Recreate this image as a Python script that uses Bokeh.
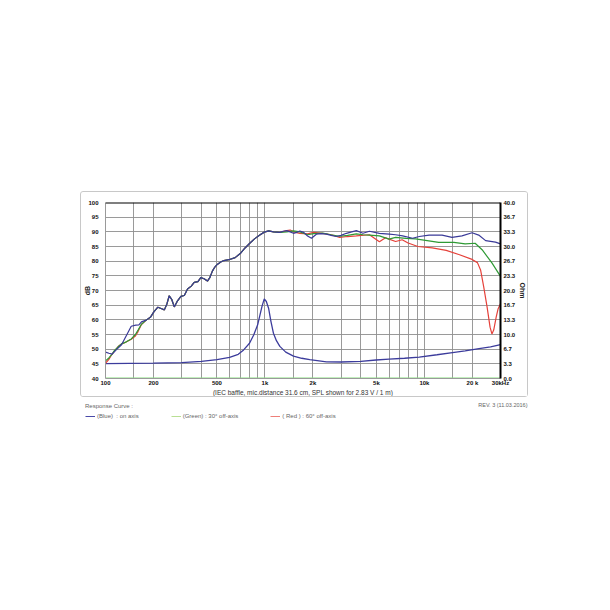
from bokeh.plotting import figure
from bokeh.layouts import column
from bokeh.models import Range1d, LinearAxis, FixedTicker, Span, Label, Legend, LegendItem
from bokeh.embed import file_html
from bokeh.resources import INLINE

# ---------------- data ----------------
blue_freq = [100, 105, 110, 118, 126, 135, 145, 155, 162, 168, 180, 192, 201, 213, 225, 234, 243, 251, 260,
             270, 283, 297, 312, 327, 345, 360, 380, 396, 415, 436, 452, 468, 485, 502, 528, 552, 594, 650,
             700, 750, 806, 860, 928, 990, 1055, 1130, 1242, 1300, 1370, 1440, 1510, 1580, 1655, 1750, 1850,
             1958, 2100, 2250, 2430, 2600, 2800, 3000, 3240, 3500, 3740, 4120, 4520, 5220, 6020, 6600, 7300,
             8430, 9280, 10700, 12900, 14900, 17200, 19900, 21900, 24200, 27900, 30000]
blue_db = [49.0, 48.6, 48.3, 50.0, 51.5, 54.6, 57.8, 58.2, 58.3, 59.3, 59.9, 61.0, 62.7, 64.3, 63.8, 63.4, 65.5,
           68.2, 67.0, 64.4, 66.5, 68.0, 68.3, 70.5, 71.5, 72.8, 73.0, 74.4, 74.0, 73.2, 74.5, 76.6, 78.0, 78.9,
           79.7, 80.2, 80.5, 81.2, 82.6, 84.5, 86.2, 87.6, 88.9, 89.9, 90.3, 90.0, 89.8, 90.2, 90.4, 90.0, 89.5,
           89.8, 90.3, 89.8, 88.6, 87.8, 89.2, 89.4, 89.2, 88.8, 88.4, 88.8, 89.5, 90.0, 90.4, 89.5, 90.2, 89.5,
           89.2, 89.0, 88.6, 87.8, 88.4, 88.9, 88.9, 88.1, 88.6, 89.7, 88.9, 87.0, 86.5, 85.9]

green_freq = [100, 105, 110, 114, 120, 126, 135, 145, 154, 160, 168, 180, 192, 201, 213, 225, 234, 243, 251, 260,
              270, 283, 297, 312, 327, 345, 360, 380, 396, 415, 436, 452, 468, 485, 502, 528, 552, 594, 650,
              700, 750, 806, 860, 928, 990, 1055, 1130, 1242, 1370, 1510, 1655, 1850, 2020, 2300, 2600, 2940,
              3300, 3740, 4120, 4520, 5220, 6000, 6600, 7660, 8800, 10400, 12300, 15300, 18000, 20800, 23000,
              26500, 30000]
green_db = [46.0, 47.0, 48.3, 49.6, 50.8, 51.8, 52.5, 53.5, 55.0, 56.5, 58.5, 59.9, 61.0, 62.7, 64.3, 63.8, 63.4,
            65.5, 68.2, 67.0, 64.4, 66.5, 68.0, 68.3, 70.5, 71.5, 72.8, 73.0, 74.4, 74.0, 73.2, 74.5, 76.6, 78.0,
            78.9, 79.7, 80.2, 80.5, 81.2, 82.6, 84.5, 86.2, 87.6, 88.9, 89.9, 90.3, 90.0, 89.8, 90.0, 90.3, 90.0,
            89.0, 89.4, 89.6, 89.0, 88.5, 88.8, 89.3, 89.0, 88.9, 88.6, 87.5, 88.1, 87.8, 87.6, 87.0, 86.4, 86.4,
            85.9, 86.1, 83.9, 79.4, 74.8]

red_freq = [100, 105, 109, 114, 120, 126, 132, 145, 154, 160, 168, 180, 192, 201, 213, 225, 234, 243, 251, 260,
            270, 283, 297, 312, 327, 345, 360, 380, 396, 415, 436, 452, 468, 485, 502, 528, 552, 594, 650,
            700, 750, 806, 860, 928, 990, 1055, 1130, 1242, 1370, 1440, 1510, 1655, 1850, 2020, 2300, 2600,
            2940, 3300, 3740, 4520, 5220, 5700, 6000, 6600, 7250, 7900, 9100, 11200, 13700, 16600, 19900,
            21500, 22500, 23500, 24700, 25800, 26500, 27200, 28200, 29000, 30000]
red_db = [45.2, 46.5, 48.0, 49.4, 50.9, 51.8, 52.2, 53.4, 54.5, 56.0, 58.4, 59.9, 61.0, 62.7, 64.3, 63.8, 63.4,
          65.5, 68.2, 67.0, 64.4, 66.5, 68.0, 68.3, 70.5, 71.5, 72.8, 73.0, 74.4, 74.0, 73.2, 74.5, 76.6, 78.0,
          78.9, 79.7, 80.2, 80.5, 81.2, 82.6, 84.5, 86.2, 87.6, 88.9, 89.9, 90.3, 90.0, 89.8, 90.4, 90.6, 90.0,
          89.5, 89.3, 89.8, 89.5, 89.0, 88.1, 88.4, 88.6, 89.0, 86.6, 88.0, 87.5, 86.7, 87.3, 86.2, 85.0, 84.5,
          83.7, 82.2, 80.6, 79.5, 77.0, 71.5, 64.5, 57.5, 55.2, 56.5, 61.0, 63.8, 65.5]

imp_freq = [100, 200, 300, 400, 500, 600, 680, 735, 800, 850, 900, 930, 960, 990, 1020, 1055, 1090, 1130, 1180,
            1240, 1350, 1510, 1700, 1910, 2430, 3000, 4000, 4970, 6000, 7500, 9280, 12000, 15000, 18000, 22000,
            26000, 30000]
imp_ohm = [3.4, 3.5, 3.6, 3.9, 4.3, 4.8, 5.5, 6.5, 8.0, 9.9, 12.2, 14.4, 16.5, 18.1, 17.5, 15.9, 13.0, 10.3, 8.6,
           7.3, 6.0, 5.1, 4.6, 4.3, 3.8, 3.75, 3.9, 4.2, 4.4, 4.6, 4.85, 5.4, 5.9, 6.3, 6.8, 7.2, 7.7]

base_freq = [100, 30000]
base_db = [40, 40]

db_ticks = [40, 45, 50, 55, 60, 65, 70, 75, 80, 85, 90, 95, 100]
ohm_labels = ["0.0", "3.3", "6.7", "10.0", "13.3", "16.7", "20.0", "23.3", "26.7", "30.0", "33.3", "36.7", "40.0"]
x_label_ticks = [100, 200, 500, 1000, 2000, 5000, 10000, 20000, 30000]
x_labels = ["100", "200", "500", "1k", "2k", "5k", "10k", "20 k", "30kHz"]
grid_freqs = [100, 150, 200, 300, 400, 500, 600, 700, 800, 900, 1000, 1500, 2000, 3000, 4000, 5000, 6000,
              7000, 8000, 9000, 10000, 15000, 20000]

legend_names = ["(Blue)  : on axis", "(Green) : 30\u00b0 off-axis", "( Red ) : 60\u00b0 off-axis"]
legend_colors = ["#4a4aa8", "#b9df94", "#ee7f79"]

FONT = "Liberation Sans"

# ---------------- main boxed chart ----------------
p = figure(width=448, height=206, x_axis_type="log", x_range=Range1d(100, 30000), y_range=Range1d(40, 100),
           output_backend="svg", toolbar_location=None,
           min_border_left=23, min_border_right=27, min_border_top=10, min_border_bottom=17,
           margin=(191, 0, 0, 80),
           styles={"border": "1px solid #c8c8c8", "border-radius": "3px"})
p.outline_line_color = None
p.background_fill_color = "white"
p.border_fill_color = "white"
p.extra_y_ranges = {"ohm": Range1d(0, 40)}

p.xgrid.ticker = FixedTicker(ticks=grid_freqs)
p.ygrid.ticker = FixedTicker(ticks=db_ticks)
for g in (p.xgrid, p.ygrid):
    g.grid_line_color = "#8f8f8f"
    g.grid_line_width = 1
    g.grid_line_alpha = 0.9

def style_axis(a, standoff):
    a.major_tick_out = 0
    a.major_tick_in = 0
    a.minor_tick_out = 0
    a.minor_tick_in = 0
    a.major_label_standoff = standoff
    a.major_label_text_font = FONT
    a.major_label_text_font_size = "6px"
    a.major_label_text_font_style = "bold"
    a.major_label_text_color = "#111111"
    a.axis_label_text_font = FONT

ya = p.yaxis[0]
ya.ticker = FixedTicker(ticks=db_ticks)
ya.axis_line_color = "#9a9a9a"
style_axis(ya, 7)
ya.axis_label = "dB"
ya.axis_label_text_font_size = "7px"
ya.axis_label_text_font_style = "bold"
ya.axis_label_text_color = "#222222"
ya.axis_label_standoff = -6

xa = p.xaxis[0]
xa.ticker = FixedTicker(ticks=x_label_ticks)
xa.major_label_overrides = {t: l for t, l in zip(x_label_ticks, x_labels)}
xa.axis_line_color = "#9a9a9a"
style_axis(xa, 1)
xa.axis_label = "(IEC baffle, mic.distance 31.6 cm, SPL shown for 2.83 V / 1 m)"
xa.axis_label_text_font_size = "6.5px"
xa.axis_label_text_font_style = "normal"
xa.axis_label_text_color = "#333333"
xa.axis_label_standoff = 0

ohm_ticks = [i * 40 / 12 for i in range(13)]
ra = LinearAxis(y_range_name="ohm", ticker=FixedTicker(ticks=ohm_ticks),
                major_label_overrides={t: l for t, l in zip(ohm_ticks, ohm_labels)})
ra.axis_line_color = "black"
ra.axis_line_width = 2
style_axis(ra, 3)
ra.axis_label = "Ohm"
ra.axis_label_text_font_size = "7px"
ra.axis_label_text_font_style = "bold"
ra.axis_label_text_color = "#222222"
ra.axis_label_standoff = 1
p.add_layout(ra, "right")

p.add_layout(Span(location=100, dimension="width", line_color="black", line_width=2))

p.line(base_freq, base_db, line_color="#86e07c", line_width=2)
p.line(imp_freq, imp_ohm, y_range_name="ohm", line_color="#3c3c9c", line_width=1.3)
p.line(red_freq, red_db, line_color="#e5413a", line_width=1.2)
p.line(green_freq, green_db, line_color="#2f9a35", line_width=1.2)
p.line(blue_freq, blue_db, line_color="#3a3a98", line_width=1.2)

# ---------------- legend strip under the box ----------------
W2, H2 = 450, 26
p2 = figure(width=W2, height=H2, x_range=Range1d(0, W2), y_range=Range1d(0, H2),
            output_backend="svg", toolbar_location=None, x_axis_location=None, y_axis_location=None,
            min_border=0, margin=(2, 0, 0, 81))
if "frame_align" in p2.properties():
    p2.frame_align = False
p2.outline_line_color = None
p2.grid.visible = False
nan = float("nan")
items = []
for name, col in zip(legend_names, legend_colors):
    r = p2.line([nan], [nan], line_color=col, line_width=1)
    items.append(LegendItem(label=name, renderers=[r]))
lg = Legend(items=items, orientation="horizontal", location="top_left", title="Response Curve :",
            title_text_font=FONT, title_text_font_size="6px", title_text_font_style="normal",
            title_text_color="#666666", title_standoff=4,
            label_text_font=FONT, label_text_font_size="6px", label_text_color="#666666",
            glyph_width=10, glyph_height=6, label_standoff=2, label_height=6, spacing=32,
            padding=0, margin=4, border_line_color=None, background_fill_alpha=0)
p2.add_layout(lg, "center")
p2.add_layout(Label(x=W2 - 4, y=H2 - 5, text="REV. 3 (11.03.2016)", text_font=FONT, text_font_size="5.5px",
                    text_align="right", text_baseline="middle", text_color="#666666"))

layout = column(p, p2, spacing=0)
open("out.html", "w").write(file_html(layout, INLINE))
